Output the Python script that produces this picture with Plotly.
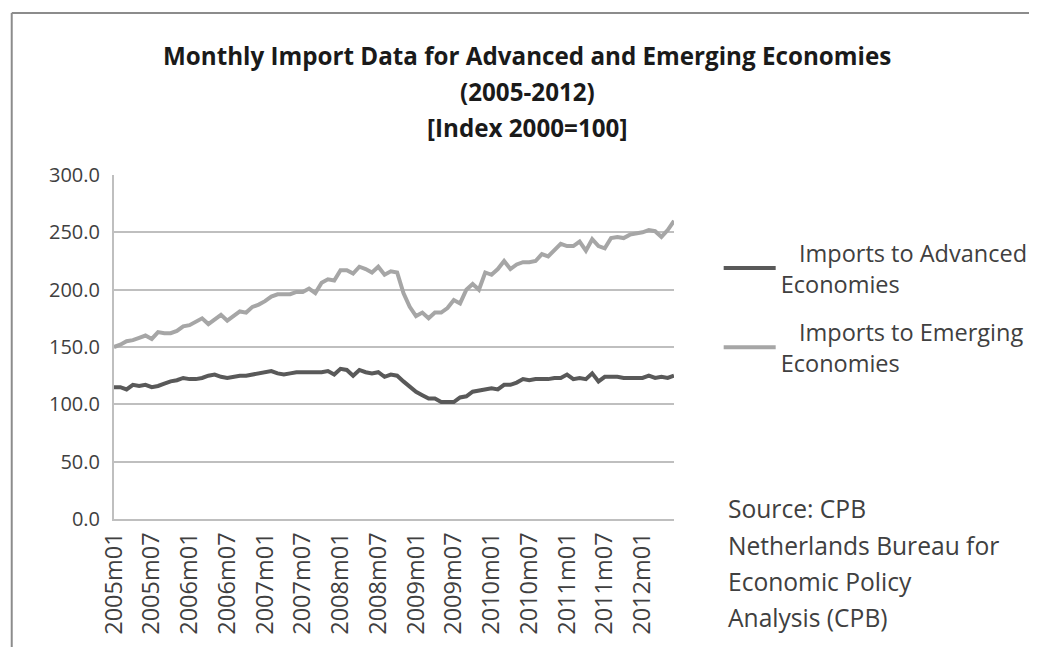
import plotly.graph_objects as go

months = [f"{y}m{m:02d}" for y in range(2005, 2013) for m in range(1, 13)][:90]

advanced = [115, 115, 113, 117, 116, 117, 115, 116, 118, 120, 121, 123,
            122, 122, 123, 125, 126, 124, 123, 124, 125, 125, 126, 127,
            128, 129, 127, 126, 127, 128, 128, 128, 128, 128, 129, 126,
            131, 130, 125, 130, 128, 127, 128, 124, 126, 125, 120, 115,
            111, 108, 105, 105, 102, 102, 102, 106, 107, 111, 112, 113,
            114, 113, 117, 117, 119, 122, 121, 122, 122, 122, 123, 123,
            126, 122, 123, 122, 127, 120, 124, 124, 124, 123, 123, 123,
            123, 125, 123, 124, 123, 125]

emerging = [150, 152, 155, 156, 158, 160, 157, 163, 162, 162, 164, 168,
            169, 172, 175, 170, 174, 178, 173, 177, 181, 180, 185, 187,
            190, 194, 196, 196, 196, 198, 198, 201, 197, 206, 209, 208,
            217, 217, 214, 220, 218, 215, 220, 213, 216, 215, 197, 185,
            177, 180, 175, 180, 180, 184, 191, 188, 200, 205, 200, 215,
            213, 218, 225, 218, 222, 224, 224, 225, 231, 229, 235, 240,
            238, 238, 242, 234, 244, 238, 236, 245, 246, 245, 248, 249,
            250, 252, 251, 246, 252, 260]

tick_labels = months[::6]
y_ticks = [0, 50, 100, 150, 200, 250, 300]

title_lines = ["Monthly Import Data for Advanced and Emerging Economies",
               "(2005-2012)", "[Index 2000=100]"]
source_lines = ["Source: CPB", "Netherlands Bureau for", "Economic Policy",
                "Analysis (CPB)"]

FONT = "'Open Sans', Lato, sans-serif"
TXT = "#404040"
NB = "\u00a0\u00a0\u00a0"

fig = go.Figure()
fig.add_trace(go.Scatter(x=months, y=advanced, mode="lines", legendgroup="adv",
                         name=NB + "Imports to Advanced<br>Economies",
                         line=dict(color="#595959", width=4)))
fig.add_trace(go.Scatter(x=months, y=emerging, mode="lines", legendgroup="emg",
                         name=NB + "Imports to Emerging<br>Economies",
                         line=dict(color="#a6a6a6", width=4)))

# page body has an 8px margin; work in reference-image pixel coordinates
OFF = 8
W, H = 1037, 647
L, R, T, B = 114 - OFF, 678 - OFF, 175 - OFF, 519 - OFF
pw, ph = R - L, B - T


def px_x(x):
    return (x - OFF - L) / pw


def px_y(y):
    return (B - (y - OFF)) / ph


annotations = []
for txt, yy in zip(title_lines, [55, 91, 127]):
    annotations.append(dict(text=f"<b>{txt}</b>", x=px_x(530), y=px_y(yy),
                            xref="paper", yref="paper", showarrow=False,
                            xanchor="center", yanchor="middle",
                            font=dict(family=FONT, size=24.2, color="#1a1a1a")))
for txt, yy in zip(source_lines, [508, 545, 581, 617]):
    annotations.append(dict(text=txt, x=px_x(730), y=px_y(yy),
                            xref="paper", yref="paper", showarrow=False,
                            xanchor="left", yanchor="middle",
                            font=dict(family=FONT, size=24.6, color=TXT)))

fig.update_layout(
    width=W, height=H,
    margin=dict(l=L, r=W - R, t=T, b=H - B, pad=0),
    paper_bgcolor="white", plot_bgcolor="white",
    font=dict(family=FONT, size=20, color=TXT),
    showlegend=True,
    legend=dict(x=px_x(723), y=px_y(231), xanchor="left", yanchor="top",
                font=dict(family=FONT, size=23.5, color=TXT),
                tracegroupgap=15, itemwidth=52, bgcolor="rgba(0,0,0,0)"),
    annotations=annotations,
    shapes=[
        dict(type="line", xref="paper", yref="paper",
             x0=px_x(11), x1=px_x(1045), y0=px_y(13), y1=px_y(13),
             line=dict(color="#8c8c8c", width=2)),
        dict(type="line", xref="paper", yref="paper",
             x0=px_x(11), x1=px_x(11), y0=px_y(13), y1=px_y(660),
             line=dict(color="#8c8c8c", width=2)),
    ],
)

fig.update_xaxes(type="category", categoryorder="array", categoryarray=months,
                 range=[0, len(months) - 1], tickmode="array",
                 tickvals=tick_labels, ticktext=tick_labels, tickangle=-90,
                 showgrid=False, showline=True, linecolor="#bfbfbf", linewidth=2,
                 ticks="", ticklabelstandoff=2,
                 tickfont=dict(family=FONT, size=23.5, color=TXT))
fig.update_yaxes(range=[0, 300], tickmode="array", tickvals=y_ticks,
                 ticktext=[f"{v:.1f}" for v in y_ticks],
                 showgrid=True, gridcolor="#bfbfbf", gridwidth=2,
                 showline=True, linecolor="#bfbfbf", linewidth=2,
                 zeroline=False, ticks="", ticklabelstandoff=8,
                 tickfont=dict(family=FONT, size=20, color=TXT))

fig.write_html("out.html")
